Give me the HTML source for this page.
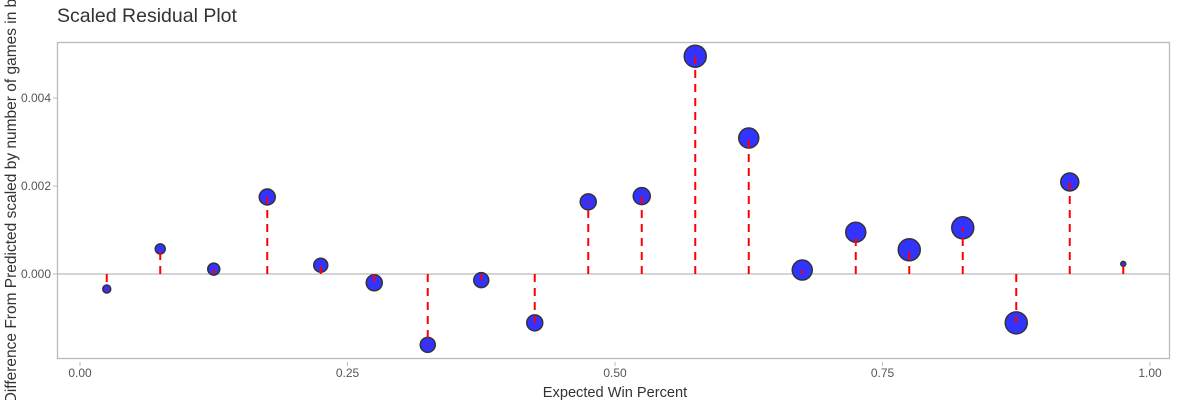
<!DOCTYPE html>
<html><head><meta charset="utf-8"><style>
body{margin:0;background:#fff;width:1180px;height:400px;overflow:hidden;font-family:"Liberation Sans",sans-serif}
</style></head><body>
<svg id="chart" width="1180" height="400" xmlns="http://www.w3.org/2000/svg">
<text x="57" y="22" font-size="19.5" fill="#333">Scaled Residual Plot</text>
<rect x="57.5" y="42.5" width="1112" height="316" fill="none" stroke="#bbb" stroke-width="1.3"/>
<g id="axes"></g><g id="marks"></g>
<text x="615" y="397" font-size="14.6" fill="#333" text-anchor="middle">Expected Win Percent</text>
<text transform="translate(16,195) rotate(-90)" font-size="15.5" fill="#333" text-anchor="middle">Difference From Predicted scaled by number of games in bin</text>
</svg>
<script>
const xVals=[0.025,0.075,0.125,0.175,0.225,0.275,0.325,0.375,0.425,0.475,0.525,0.575,0.625,0.675,0.725,0.775,0.825,0.875,0.925,0.975];
const yVals=[-0.00034,0.00057,0.00011,0.00175,0.0002,-0.0002,-0.00161,-0.00014,-0.00111,0.00164,0.00177,0.00495,0.00309,0.00009,0.00095,0.00055,0.00105,-0.00111,0.00209,0.00023];
const sizes=[4,5,6,8,7,8,7.5,7.5,8,8,8.5,11,10,10,10,11,11,11,9,2.5];
const xTicks=[0,0.25,0.5,0.75,1];
const xTickLabels=["0.00","0.25","0.50","0.75","1.00"];
const yTicks=[0,0.002,0.004];
const yTickLabels=["0.000","0.002","0.004"];
const sx=v=>80+v*1070, sy=v=>274-v*44000;
const NS="http://www.w3.org/2000/svg";
function mk(t,a,p){const e=document.createElementNS(NS,t);for(const k in a)e.setAttribute(k,a[k]);p.appendChild(e);return e;}
const ax=document.getElementById('axes'), mg=document.getElementById('marks');
const zl=mk('line',{x1:58,x2:1169,y1:sy(0),y2:sy(0),stroke:'#bbb','stroke-width':1.3},ax);


yTicks.forEach((t,i)=>{
 const l=mk('line',{x1:53,x2:57,y1:sy(t),y2:sy(t),stroke:'#bbb'},ax);
 
 
 const tx=mk('text',{x:51,y:sy(t)+4,'font-size':12,fill:'#555','text-anchor':'end'},ax);tx.textContent=yTickLabels[i];
 
 
});
xTicks.forEach((t,i)=>{
 const l=mk('line',{x1:sx(t),x2:sx(t),y1:362,y2:366,stroke:'#bbb'},ax);
 
 
 const tx=mk('text',{x:sx(t),y:377,'font-size':12,fill:'#555','text-anchor':'middle'},ax);tx.textContent=xTickLabels[i];
 
 
});
xVals.forEach((x,i)=>{
 const c=mk('circle',{cx:sx(x),cy:sy(yVals[i]),r:sizes[i],fill:'#3333ff',stroke:'#333','stroke-width':1.5},mg);
 
 
});
xVals.forEach((x,i)=>{
 const l=mk('line',{x1:sx(x),x2:sx(x),y1:sy(0),y2:sy(yVals[i]),stroke:'#ff0000','stroke-width':2,'stroke-dasharray':'8,6'},mg);
 
 
});
</script>
</body></html>
